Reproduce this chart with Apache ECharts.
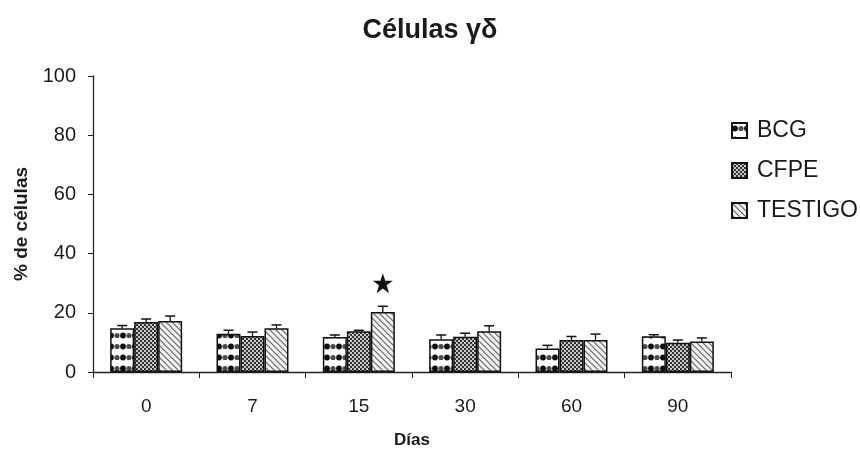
<!DOCTYPE html>
<html>
<head>
<meta charset="utf-8">
<script src="https://cdn.jsdelivr.net/npm/echarts@6/dist/echarts.min.js"></script>
<style>
html,body{margin:0;padding:0;background:#fff;}
#main{width:860px;height:456px;}
</style>
</head>
<body>
<div id="main"></div>
<script>
// datos
var dias = ['0', '7', '15', '30', '60', '90'];
var bcg = [14.8, 12.9, 11.8, 11.1, 7.9, 12.1];
var cfpe = [16.9, 12.2, 13.8, 11.9, 10.8, 9.9];
var testigo = [17.2, 14.8, 20.3, 13.8, 10.8, 10.3];
var bcgErr = [0.9, 1.2, 0.7, 1.4, 1.1, 0.5];
var cfpeErr = [1.0, 1.3, 0.3, 1.2, 1.2, 0.9];
var testigoErr = [1.7, 1.1, 1.9, 1.8, 2.0, 1.2];
var estrella = [[2, 30]];   // dia 15, sobre TESTIGO
var yTicks = [0, 20, 40, 60, 80, 100];

var FONT = '"Liberation Sans", Arial, sans-serif';
var BAR_W = 24;

// tramas
function patronPuntos() {
	var c = document.createElement('canvas');
	c.width = 12; c.height = 11;
	var g = c.getContext('2d');
	g.fillStyle = '#fff'; g.fillRect(0, 0, 12, 11);
	g.fillStyle = '#0d0d0d';
	g.beginPath(); g.arc(3, 5.5, 2.9, 0, Math.PI * 2); g.fill();
	g.fillStyle = '#4a4a4a';
	g.beginPath(); g.arc(9, 5.5, 2.6, 0, Math.PI * 2); g.fill();
	return c;
}
function patronCuadros() {
	var c = document.createElement('canvas');
	c.width = 4; c.height = 4;
	var g = c.getContext('2d');
	g.fillStyle = '#c8c8c8'; g.fillRect(0, 0, 4, 4);
	g.fillStyle = '#333';
	g.fillRect(0, 0, 2, 2); g.fillRect(2, 2, 2, 2);
	return c;
}
function patronRayas() {
	var c = document.createElement('canvas');
	c.width = 6; c.height = 6;
	var g = c.getContext('2d');
	g.fillStyle = '#f2f2f2'; g.fillRect(0, 0, 6, 6);
	g.strokeStyle = '#6a6a6a'; g.lineWidth = 1.2;
	g.beginPath();
	g.moveTo(-1, -1); g.lineTo(7, 7);
	g.moveTo(-1, 5); g.lineTo(1, 7);
	g.moveTo(5, -1); g.lineTo(7, 1);
	g.stroke();
	return c;
}

function errData(vals, errs) {
	return vals.map(function (v, i) { return [i, v, v + errs[i]]; });
}

function errorBar(offset) {
	return function (params, api) {
		var x = api.value(0);
		var lo = api.coord([x, api.value(1)]);
		var hi = api.coord([x, api.value(2)]);
		var cx = lo[0] + offset;
		return {
			type: 'group',
			children: [
				{ type: 'line', shape: { x1: cx, y1: lo[1], x2: cx, y2: hi[1] }, style: { stroke: '#111', lineWidth: 1.3 } },
				{ type: 'line', shape: { x1: cx - 5, y1: hi[1], x2: cx + 5, y2: hi[1] }, style: { stroke: '#111', lineWidth: 1.5 } }
			]
		};
	};
}

var dom = document.getElementById('main');
var myChart = echarts.init(dom);
var barBase = {
	type: 'bar',
	barWidth: BAR_W,
	barGap: '0%',
	z: 2
};
var option = {
	animation: false,
	backgroundColor: '#fff',
	title: {
		text: 'Células γδ',
		left: 'center',
		top: 12,
		textStyle: { fontFamily: FONT, fontSize: 27, fontWeight: 'bold', color: '#1a1a1a' }
	},
	legend: {
		orient: 'vertical',
		left: 726,
		top: 114,
		itemWidth: 15,
		itemHeight: 15,
		itemGap: 17,
		icon: 'rect',
		textStyle: { fontFamily: FONT, fontSize: 23, color: '#1a1a1a', padding: [0, 0, 0, 5] },
		data: ['BCG', 'CFPE', 'TESTIGO']
	},
	grid: { left: 93, right: 129, top: 76, bottom: 84 },
	xAxis: {
		type: 'category',
		data: dias,
		boundaryGap: true,
		name: 'Días',
		nameLocation: 'middle',
		nameGap: 60,
		nameTextStyle: { fontFamily: FONT, fontSize: 17, fontWeight: 'bold', color: '#1a1a1a' },
		axisLine: { lineStyle: { color: '#222', width: 1.3 } },
		axisTick: { show: true, length: 6, alignWithLabel: false, lineStyle: { color: '#222' } },
		axisLabel: { fontFamily: FONT, fontSize: 19, color: '#1a1a1a', margin: 25 }
	},
	yAxis: {
		type: 'value',
		min: 0,
		max: 100,
		interval: 20,
		name: '% de células',
		nameLocation: 'middle',
		nameGap: 62,
		nameTextStyle: { fontFamily: FONT, fontSize: 19, fontWeight: 'bold', color: '#1a1a1a' },
		axisLine: { show: true, lineStyle: { color: '#222', width: 1.3 } },
		axisTick: { show: true, length: 5, lineStyle: { color: '#222' } },
		splitLine: { show: false },
		axisLabel: {
			fontFamily: FONT, fontSize: 20, color: '#1a1a1a', margin: 17,
			formatter: function (v) { return yTicks.indexOf(v) >= 0 ? String(v) : ''; }
		}
	},
	series: [
		Object.assign({}, barBase, {
			name: 'BCG', data: bcg,
			itemStyle: { color: { image: patronPuntos(), repeat: 'repeat' }, borderColor: '#111', borderWidth: 1.5 }
		}),
		Object.assign({}, barBase, {
			name: 'CFPE', data: cfpe,
			itemStyle: { color: { image: patronCuadros(), repeat: 'repeat' }, borderColor: '#111', borderWidth: 1.5 }
		}),
		Object.assign({}, barBase, {
			name: 'TESTIGO', data: testigo,
			itemStyle: { color: { image: patronRayas(), repeat: 'repeat' }, borderColor: '#111', borderWidth: 1.5 }
		}),
		{ type: 'custom', renderItem: errorBar(-BAR_W), data: errData(bcg, bcgErr), encode: { x: 0, y: [1, 2] }, z: 3 },
		{ type: 'custom', renderItem: errorBar(0), data: errData(cfpe, cfpeErr), encode: { x: 0, y: [1, 2] }, z: 3 },
		{ type: 'custom', renderItem: errorBar(BAR_W), data: errData(testigo, testigoErr), encode: { x: 0, y: [1, 2] }, z: 3 },
		{
			type: 'scatter',
			data: estrella,
			symbol: 'path://M12,0 L14.9,8.6 L24,8.6 L16.6,14 L19.4,23 L12,17.6 L4.6,23 L7.4,14 L0,8.6 L9.1,8.6 Z',
			symbolSize: 20,
			symbolOffset: [BAR_W, 0],
			itemStyle: { color: '#111', opacity: 1 },
			z: 4
		}
	]
};
if (option && typeof option === "object") {
	myChart.setOption(option, true);
}
</script>
</body>
</html>
